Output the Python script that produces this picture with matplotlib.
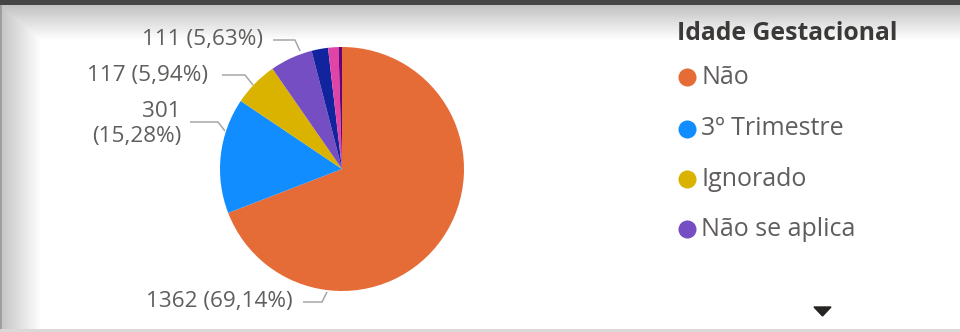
import numpy as np
import matplotlib
matplotlib.use("Agg")
import matplotlib.pyplot as plt
from matplotlib.lines import Line2D
from matplotlib.patches import Polygon

# Dados
categorias = ["Não", "3º Trimestre", "Ignorado", "Não se aplica",
              "2º Trimestre", "1º Trimestre", "Idade ignorada"]
valores = [1362, 301, 117, 111, 43, 27, 9]
cores = ["#E66C37", "#118DFF", "#D9B300", "#744EC2",
         "#12239E", "#E044A7", "#6B007B"]
titulo_legenda = "Idade Gestacional"
n_legenda = 4  # só 4 itens visíveis (legenda com rolagem)

W, H = 960, 332
CX, CY, R = 342, 169, 122  # centro e raio da pizza em pixels

FONT = "Open Sans"
COR_TEXTO = "#605E5C"


def px(x, y):
    # pixel da imagem -> coordenadas da pizza
    return (x - CX) / R, (CY - y) / R


fig = plt.figure(figsize=(W / 100, H / 100), dpi=100)
fig.patch.set_facecolor("white")

# fundo com sombra do cartão (topo e esquerda)
bg = fig.add_axes([0, 0, 1, 1])
yy = np.arange(H)[:, None]
xx = np.arange(W)[None, :]
top = np.clip((yy - 5) / 35.0, 0, 1)
left = np.clip((xx - 3) / 38.0, 0, 1)
img = np.minimum(0.76 + 0.24 * top, 0.78 + 0.22 * left) * np.ones((H, W))
img[:5, :] = 0.27
img[:, :2] = np.minimum(img[:, :2], 0.62)
img[-3:, :] = 0.85
bg.imshow(img, cmap="gray", vmin=0, vmax=1, extent=(0, W, H, 0), aspect="auto")
bg.set_xlim(0, W)
bg.set_ylim(H, 0)
bg.axis("off")

# pizza
ax = fig.add_axes([(CX - R) / W, (H - CY - R) / H, 2 * R / W, 2 * R / H])
ax.pie(valores, colors=cores, startangle=90, counterclock=False, radius=1,
       wedgeprops=dict(linewidth=0))
ax.set_xlim(-1, 1)
ax.set_ylim(-1, 1)
ax.set_aspect("auto")

total = sum(valores)
rotulos = []
for v in valores:
    pct = f"{100 * v / total:.2f}".replace(".", ",")
    rotulos.append(f"{v} ({pct}%)")

# posições dos rótulos: (âncora, cotovelo, fim da linha, texto)
layout = [
    ((327, 292), (322, 302), (303, 302), (293, 302)),
    ((225, 131), (218, 122), (190, 122), (181, 124)),
    ((253, 85), (245, 75), (222, 75), (208, 75)),
    ((300, 51), (295, 40), (273, 40), (263, 40)),
]
for i, (a, c, e, t) in enumerate(layout):
    pts = [px(*a), px(*c), px(*e)]
    ax.plot([p[0] for p in pts], [p[1] for p in pts], color="#A6A6A6",
            lw=1.1, clip_on=False, solid_capstyle="butt")
    txt = rotulos[i]
    if i == 1:
        txt = txt.replace(" ", "\n", 1)
    tx, ty = px(*t)
    ax.text(tx, ty, txt, ha="right", va="center", fontsize=16.2,
            family=FONT, color=COR_TEXTO, linespacing=1.25, clip_on=False)

# legenda
fig.text(677 / W, 1 - 33 / H, titulo_legenda, fontsize=17.8, fontweight="bold",
         family=FONT, color="#3B3A39", va="center", ha="left")
leg_y = [77, 129, 179, 229]
for i in range(n_legenda):
    y = 1 - leg_y[i] / H
    fig.add_artist(Line2D([687 / W], [y], marker="o", markersize=13,
                          color=cores[i], markeredgewidth=0,
                          transform=fig.transFigure))
    fig.text(701 / W, y, categorias[i], fontsize=18, family=FONT,
             color=COR_TEXTO, va="center", ha="left")

# seta de rolagem da legenda
seta = Polygon([(814 / W, 1 - 307 / H), (831 / W, 1 - 307 / H),
                (822.5 / W, 1 - 316 / H)], closed=True, color="#252423",
               transform=fig.transFigure)
fig.add_artist(seta)

fig.savefig("out.png", dpi=100)
